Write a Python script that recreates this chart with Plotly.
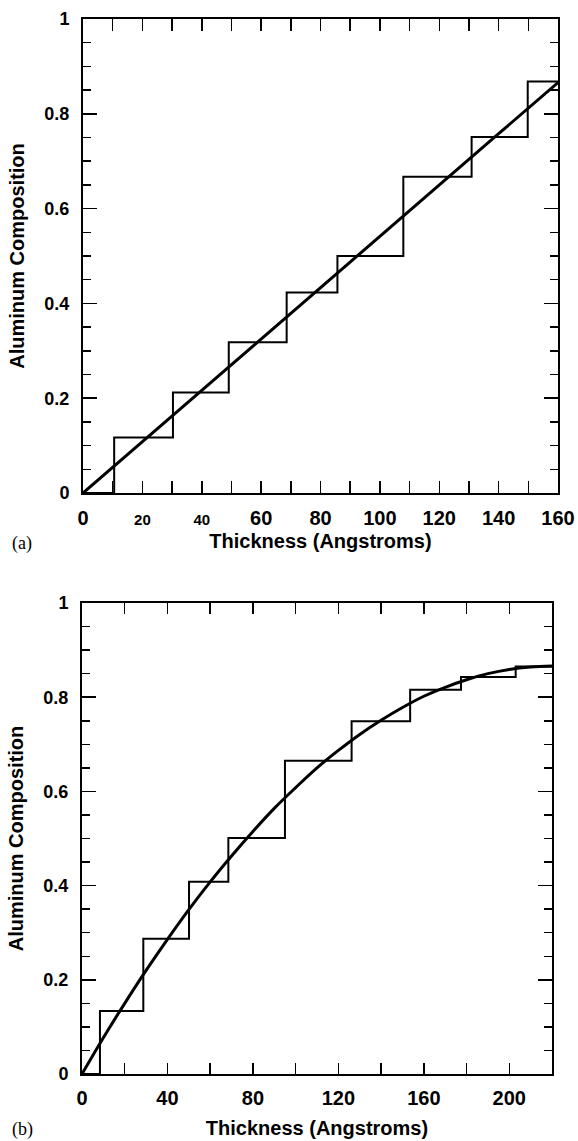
import plotly.graph_objects as go

# ---------------- data ----------------
# Panel (a): digital (stepped) alloy profile and the linear target grade
a_step_x = [0, 10.5, 30.3, 49.1, 68.6, 85.7, 107.9, 130.9, 149.8, 160]
a_step_y = [0, 0.117, 0.212, 0.318, 0.423, 0.500, 0.667, 0.751, 0.868, 0.868]
a_line_x = [0, 20, 40, 60, 80, 100, 120, 140, 160]
a_line_y = [0, 0.108, 0.217, 0.325, 0.433, 0.541, 0.650, 0.758, 0.866]

# Panel (b): stepped profile and the curved (parabolic-like) target grade
b_step_x = [0, 8.4, 28.7, 50.1, 68.5, 95.0, 126.2, 153.6, 177.4, 203.0, 220]
b_step_y = [0, 0.134, 0.287, 0.408, 0.501, 0.665, 0.749, 0.816, 0.843, 0.865, 0.865]
b_curve_x = [0, 10, 20, 30, 40, 50, 60, 70, 80, 90, 100, 110,
             120, 130, 140, 150, 160, 170, 180, 190, 200, 210, 220]
b_curve_y = [0, 0.077, 0.150, 0.220, 0.286, 0.349, 0.408, 0.463, 0.515, 0.564,
             0.608, 0.650, 0.687, 0.721, 0.751, 0.778, 0.802, 0.821, 0.837,
             0.850, 0.859, 0.864, 0.866]

y_tickvals = [0, 0.2, 0.4, 0.6, 0.8, 1]
y_ticktext = ["0", "0.2", "0.4", "0.6", "0.8", "1"]
a_xtickvals = [0, 20, 40, 60, 80, 100, 120, 140, 160]
a_xticktext = ["0", "<span style='font-size:15px'>20</span>",
               "<span style='font-size:15px'>40</span>",
               "60", "80", "100", "120", "140", "160"]
b_xtickvals = [0, 40, 80, 120, 160, 200]
b_xticktext = ["0", "40", "80", "120", "160", "200"]

x_title = "Thickness (Angstroms)"
y_title = "Aluminum Composition"

# ---------------- figure ----------------
W, H = 578, 1141
SANS = "Liberation Sans, Arial, Helvetica, sans-serif"

fig = go.Figure()
fig.add_trace(go.Scatter(x=a_step_x, y=a_step_y, mode="lines", line_shape="hv",
                         line=dict(color="black", width=2), xaxis="x", yaxis="y",
                         showlegend=False))
fig.add_trace(go.Scatter(x=a_line_x, y=a_line_y, mode="lines",
                         line=dict(color="black", width=3), xaxis="x", yaxis="y",
                         showlegend=False))
fig.add_trace(go.Scatter(x=b_step_x, y=b_step_y, mode="lines", line_shape="hv",
                         line=dict(color="black", width=2), xaxis="x2", yaxis="y2",
                         showlegend=False))
fig.add_trace(go.Scatter(x=b_curve_x, y=b_curve_y, mode="lines", line_shape="spline",
                         line=dict(color="black", width=3), xaxis="x2", yaxis="y2",
                         showlegend=False))


def px_x(v):
    return v / W


def px_y(v):
    return 1 - v / H


common = dict(showline=True, linecolor="black", linewidth=2, mirror="allticks",
              ticks="inside", tickcolor="black", tickwidth=1.5, showgrid=False,
              zeroline=False, fixedrange=True, automargin=False)

title_font = dict(family=SANS, size=20, color="black", weight="bold")
tick_font_x = dict(family=SANS, size=20, color="black", weight="bold")
tick_font_y = dict(family=SANS, size=18, color="black", weight="bold")

fig.update_layout(
    width=W, height=H,
    margin=dict(l=0, r=0, t=0, b=0, autoexpand=False),
    paper_bgcolor="white", plot_bgcolor="white",
    xaxis=dict(domain=[px_x(83), px_x(558)], range=[0, 160], anchor="y",
               tickvals=a_xtickvals, ticktext=a_xticktext, ticklen=12,
               minor=dict(dtick=10, tick0=0, ticklen=12, ticks="inside",
                          tickcolor="black", tickwidth=1.5),
               tickfont=tick_font_x, ticklabelstandoff=6,
               title=dict(text=x_title, font=title_font, standoff=6), **common),
    yaxis=dict(domain=[px_y(493), px_y(19)], range=[0, 1], anchor="x",
               tickvals=y_tickvals, ticktext=y_ticktext, ticklen=14,
               minor=dict(dtick=0.05, tick0=0, ticklen=8, ticks="inside",
                          tickcolor="black", tickwidth=1.5),
               tickfont=tick_font_y, ticklabelstandoff=8,
               title=dict(text=y_title, font=title_font, standoff=14), **common),
    xaxis2=dict(domain=[px_x(82), px_x(552)], range=[0, 220], anchor="y2",
                tickvals=b_xtickvals, ticktext=b_xticktext, ticklen=11,
                minor=dict(dtick=20, tick0=0, ticklen=11, ticks="inside",
                           tickcolor="black", tickwidth=1.5),
                tickfont=tick_font_x, ticklabelstandoff=5,
                title=dict(text=x_title, font=title_font, standoff=13), **common),
    yaxis2=dict(domain=[px_y(1074), px_y(603)], range=[0, 1], anchor="x2",
                tickvals=y_tickvals, ticktext=y_ticktext, ticklen=14,
                minor=dict(dtick=0.05, tick0=0, ticklen=8, ticks="inside",
                           tickcolor="black", tickwidth=1.5),
                tickfont=tick_font_y, ticklabelstandoff=8,
                title=dict(text=y_title, font=title_font, standoff=14), **common),
    annotations=[
        dict(text="(a)", x=px_x(10), y=px_y(543), xref="paper", yref="paper",
             xanchor="left", yanchor="middle", showarrow=False,
             font=dict(family="Liberation Serif, Times New Roman, serif", size=18,
                       color="black")),
        dict(text="(b)", x=px_x(10), y=px_y(1129), xref="paper", yref="paper",
             xanchor="left", yanchor="middle", showarrow=False,
             font=dict(family="Liberation Serif, Times New Roman, serif", size=18,
                       color="black")),
    ],
)

fig.write_html("out.html",
               config={"displayModeBar": False, "staticPlot": True},
               post_script="document.body.style.margin='0';"
                           "document.body.style.overflow='hidden';")
